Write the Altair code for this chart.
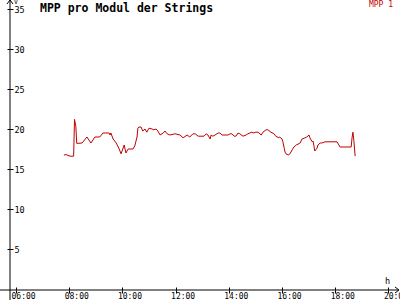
import altair as alt
import pandas as pd

# ---- data ----
times = ["07:48", "07:53", "08:02", "08:10", "08:12", "08:15", "08:17", "08:29",
         "08:40", "08:49", "08:58", "09:09", "09:16", "09:30", "09:32", "09:34",
         "09:39", "09:46", "09:52", "09:57", "10:04", "10:08", "10:13", "10:24",
         "10:28", "10:33", "10:35", "10:37", "10:42", "10:46", "10:51", "10:55",
         "11:00", "11:07", "11:11", "11:16", "11:20", "11:25", "11:32", "11:36",
         "11:41", "11:47", "11:59", "12:10", "12:17", "12:26", "12:32", "12:39",
         "12:44", "12:51", "13:04", "13:09", "13:13", "13:18", "13:20", "13:24",
         "13:29", "13:36", "13:40", "13:45", "13:58", "14:03", "14:07", "14:12",
         "14:16", "14:21", "14:25", "14:32", "14:39", "14:43", "14:52", "14:55",
         "15:01", "15:06", "15:13", "15:17", "15:24", "15:28", "15:35", "15:42",
         "15:46", "15:53", "15:55", "16:00", "16:02", "16:05", "16:07", "16:09",
         "16:14", "16:18", "16:23", "16:27", "16:32", "16:36", "16:41", "16:45",
         "16:52", "16:56", "17:01", "17:03", "17:08", "17:10", "17:12", "17:14",
         "17:19", "17:21", "17:26", "17:30", "17:37", "18:04", "18:11", "18:36",
         "18:38", "18:40", "18:42", "18:45"]
values = [16.75, 16.8, 16.6, 16.6, 21.2, 20.3, 18.2, 18.25,
          19.0, 18.25, 19.0, 19.0, 19.5, 19.5, 19.25, 19.5,
          18.75, 18.25, 17.6, 16.9, 18.0, 17.0, 17.5, 17.5,
          17.9, 19.0, 20.1, 20.25, 20.25, 19.75, 20.0, 19.6,
          20.1, 20.0, 19.9, 20.0, 19.75, 19.25, 19.5, 19.75,
          19.4, 19.25, 19.4, 19.25, 18.9, 19.25, 19.0, 19.4,
          19.4, 19.1, 19.1, 19.4, 19.25, 18.75, 19.25, 19.1,
          19.25, 19.5, 19.5, 19.25, 19.25, 19.4, 19.4, 19.1,
          19.1, 19.5, 19.4, 19.1, 19.25, 19.4, 19.6, 19.5,
          19.6, 19.6, 19.25, 19.6, 19.9, 19.9, 19.6, 19.4,
          19.1, 18.9, 19.0, 18.75, 18.4, 17.6, 17.1, 16.9,
          16.75, 16.9, 17.4, 17.75, 18.0, 18.1, 18.25, 18.75,
          18.9, 19.0, 19.25, 18.9, 18.4, 18.5, 17.9, 17.25,
          17.6, 18.0, 18.25, 18.25, 18.4, 18.4, 17.75, 17.75,
          18.9, 19.6, 18.6, 16.6]
x_ticks = [6, 8, 10, 12, 14, 16, 18, 20]
y_ticks = [5, 10, 15, 20, 25, 30, 35]
title_text = ["MPP pro Modul der Strings"]
legend_text = ["MPP 1"]
y_unit = ["V"]
x_unit = ["h"]

hours = [int(t[:2]) + int(t[3:]) / 60 for t in times]
df = pd.DataFrame({"h": hours, "v": values})

W, H = 390, 290
FONT = "DejaVu Sans Mono"
RED = "#c00000"

xs = alt.Scale(domain=[5.7744, 20.436], nice=False, zero=False)
ys = alt.Scale(domain=[-0.125, 36.125], nice=False, zero=False)

label_expr = "(datum.value < 10 ? '0' : '') + datum.value + ':00'"

line = alt.Chart(df).mark_line(color=RED, strokeWidth=1).encode(
    x=alt.X("h:Q", scale=xs, axis=alt.Axis(
        orient="bottom", values=x_ticks, labelExpr=label_expr, domain=False,
        grid=False, tickSize=3, tickColor="black", labelAlign="left",
        labelBaseline="top", labelOffset=-5, labelPadding=-1, labelFont=FONT,
        labelFontSize=8, labelColor="black", title=None)),
    y=alt.Y("v:Q", scale=ys, axis=alt.Axis(
        orient="right", offset=-W, values=y_ticks, domain=False, grid=False,
        tickSize=3, tickColor="black", labelPadding=1, labelFont=FONT,
        labelFontSize=8.5, labelColor="black", labelBaseline="middle",
        title=None)),
)

ticks2 = alt.Chart(df).mark_line(opacity=0).encode(
    x=alt.X("h:Q", scale=xs, axis=alt.Axis(
        orient="top", offset=-H, values=x_ticks, labels=False, domain=False,
        grid=False, tickSize=3, tickColor="black", title=None)),
    y=alt.Y("v:Q", scale=ys, axis=alt.Axis(
        orient="left", values=y_ticks, labels=False, domain=False, grid=False,
        tickSize=3, tickColor="black", title=None)),
)

one = pd.DataFrame({"k": [0]})


def seg(x1, y1, x2, y2):
    return alt.Chart(one).mark_rule(color="black", strokeWidth=1).encode(
        x=alt.value(x1), y=alt.value(y1), x2=alt.value(x2), y2=alt.value(y2))


axes_lines = [
    seg(0, 0, 0, 310),        # y axis line
    seg(-10, H, 389, H),      # x axis line
    seg(-3, 4, 0, 0), seg(0, 0, 3, 4),              # y arrow
    seg(385, H - 3, 389, H), seg(389, H, 385, H + 3),  # x arrow
]

title = alt.Chart(pd.DataFrame({"t": title_text})).mark_text(
    font=FONT, fontSize=11.5, fontWeight="bold", align="left",
    baseline="middle", color="black").encode(
    text="t:N", x=alt.value(30), y=alt.value(9))

legend = alt.Chart(pd.DataFrame({"t": legend_text})).mark_text(
    font=FONT, fontSize=8, align="right", baseline="middle", color=RED).encode(
    text="t:N", x=alt.value(383), y=alt.value(5))

vlab = alt.Chart(pd.DataFrame({"t": y_unit})).mark_text(
    font=FONT, fontSize=6.5, align="left", baseline="middle", color="black").encode(
    text="t:N", x=alt.value(4), y=alt.value(2))

hlab = alt.Chart(pd.DataFrame({"t": x_unit})).mark_text(
    font=FONT, fontSize=8.5, align="left", baseline="middle", color="black").encode(
    text="t:N", x=alt.value(375), y=alt.value(281))

chart = alt.layer(line, ticks2, *axes_lines, title, legend, vlab, hlab).resolve_axis(
    x="independent", y="independent"
).properties(
    width=W, height=H,
    autosize=alt.AutoSizeParams(type="none"),
    padding={"left": 10, "top": 0, "right": 0, "bottom": 10},
    background="white",
).configure_view(stroke=None)

chart.save("out.html", embed_options={"renderer": "svg", "actions": False})
